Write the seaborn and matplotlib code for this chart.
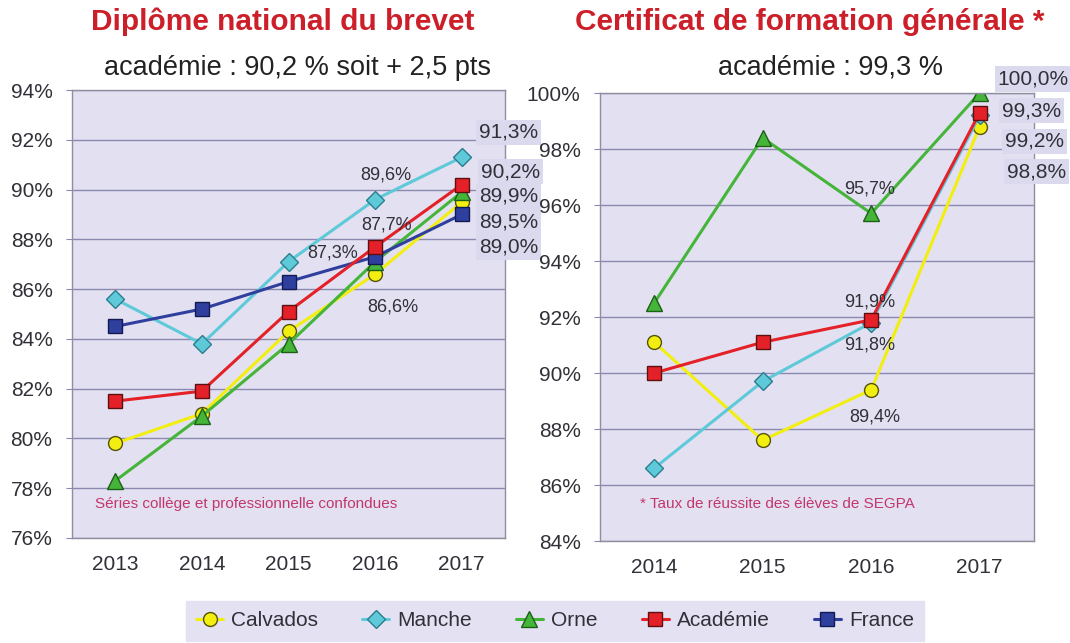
import numpy as np
import pandas as pd
import matplotlib
matplotlib.use("Agg")
import matplotlib.pyplot as plt
from matplotlib.ticker import FixedLocator, FuncFormatter
import seaborn as sns

sns.set_style("white")
plt.rcParams["font.family"] = ["Liberation Sans", "DejaVu Sans"]
NARROW = ["Liberation Sans Narrow", "Liberation Sans", "DejaVu Sans"]

# --- data ---
years_dnb = ["2013", "2014", "2015", "2016", "2017"]
dnb_calvados = [79.8, 81.0, 84.3, 86.6, 89.5]
dnb_manche = [85.6, 83.8, 87.1, 89.6, 91.3]
dnb_orne = [78.3, 80.9, 83.8, 87.1, 89.9]
dnb_france = [84.5, 85.2, 86.3, 87.3, 89.0]
dnb_academie = [81.5, 81.9, 85.1, 87.7, 90.2]

years_cfg = ["2014", "2015", "2016", "2017"]
cfg_calvados = [91.1, 87.6, 89.4, 98.8]
cfg_manche = [86.6, 89.7, 91.8, 99.2]
cfg_orne = [92.5, 98.4, 95.7, 100.0]
cfg_academie = [90.0, 91.1, 91.9, 99.3]

legend_order = ["Calvados", "Manche", "Orne", "Académie", "France"]

styles = {
    "Calvados": dict(color="#f2ee10", edge="#55520a", marker="o", ms=10),
    "Manche": dict(color="#5ec9d8", edge="#2b7c8c", marker="D", ms=9),
    "Orne": dict(color="#45b53a", edge="#1d5e18", marker="^", ms=11),
    "Académie": dict(color="#e42128", edge="#5e1010", marker="s", ms=10),
    "France": dict(color="#2f3f9e", edge="#121a55", marker="s", ms=10),
}

BG = "#e3e1f1"
GRID = "#8b89b0"
SPINE = "#8e8e9e"
TXT = "#303038"


def fmt(v):
    return f"{v:.1f}".replace(".", ",") + "%"


def draw(ax, years, series, ylim, labels):
    for name, vals in series.items():
        st = styles[name]
        df = pd.DataFrame({"annee": years, "taux": vals})
        sns.lineplot(data=df, x="annee", y="taux", ax=ax, color=st["color"],
                     marker=st["marker"], markersize=st["ms"],
                     markeredgecolor=st["edge"], markeredgewidth=1,
                     linewidth=2.2, label=name, legend=False)
    n = len(years)
    ax.set_facecolor(BG)
    ax.set_xlim(-0.5, n - 0.5)
    ax.set_ylim(*ylim)
    ax.set_yticks(np.arange(ylim[0], ylim[1] + 1, 2))
    ax.yaxis.set_major_formatter(FuncFormatter(lambda v, p: f"{v:.0f}%"))
    ax.grid(axis="y", color=GRID, lw=1)
    ax.grid(axis="x", visible=False)
    ax.set_axisbelow(True)
    ax.xaxis.set_minor_locator(FixedLocator(np.arange(-0.5, n, 1)))
    ax.tick_params(axis="x", which="major", length=0, pad=12, labelsize=15, labelcolor=TXT)
    ax.tick_params(axis="x", which="minor", length=5, color=SPINE, width=1)
    ax.tick_params(axis="y", length=4, color=GRID, labelsize=15, pad=10, labelcolor=TXT, left=True)
    for s in ax.spines.values():
        s.set_color(SPINE)
        s.set_linewidth(1)
    ax.set_xlabel("")
    ax.set_ylabel("")
    for name, i, dx, dy, ha, size, boxed in labels:
        v = series[name][i]
        kw = {}
        if boxed:
            kw["bbox"] = dict(boxstyle="square,pad=0.15", fc="#dbd9ee", ec="none")
        ax.annotate(fmt(v), xy=(i, v), xytext=(dx, dy), textcoords="offset pixels",
                    ha=ha, va="center", fontsize=size, color=TXT, zorder=5,
                    annotation_clip=False, **kw)


fig = plt.figure(figsize=(10.7, 6.43), dpi=100)
ax1 = fig.add_axes([0.0673, 0.1633, 0.4047, 0.6967])
ax2 = fig.add_axes([0.5607, 0.1586, 0.4056, 0.6967])

dnb = {"Calvados": dnb_calvados, "Orne": dnb_orne, "Manche": dnb_manche,
       "France": dnb_france, "Académie": dnb_academie}
dnb_labels = [
    ("Manche", 4, 17, 25, "left", 15, True),
    ("Académie", 4, 19, 13, "left", 15, True),
    ("Orne", 4, 17, -4, "left", 15, True),
    ("Calvados", 4, 17, -20, "left", 15, True),
    ("France", 4, 17, -33, "left", 15, True),
    ("Manche", 3, 11, 25, "center", 13, False),
    ("Académie", 3, 11, 22, "center", 13, False),
    ("France", 3, -43, 4, "center", 13, False),
    ("Calvados", 3, 18, -33, "center", 13, False),
]
draw(ax1, years_dnb, dnb, (76, 94), dnb_labels)

cfg = {"Calvados": cfg_calvados, "Orne": cfg_orne, "Manche": cfg_manche,
       "Académie": cfg_academie}
cfg_labels = [
    ("Orne", 3, 18, 14, "left", 15, True),
    ("Académie", 3, 22, 2, "left", 15, True),
    ("Manche", 3, 25, -26, "left", 15, True),
    ("Calvados", 3, 27, -45, "left", 15, True),
    ("Orne", 2, -2, 24, "center", 13, False),
    ("Académie", 2, -2, 18, "center", 13, False),
    ("Manche", 2, -2, -22, "center", 13, False),
    ("Calvados", 2, 4, -27, "center", 13, False),
]
draw(ax2, years_cfg, cfg, (84, 100), cfg_labels)

ax1.text(0.053, 0.076, "Séries collège et professionnelle confondues", transform=ax1.transAxes,
         fontsize=11, color="#c2366e", family=NARROW, va="center")
ax2.text(0.092, 0.083, "* Taux de réussite des élèves de SEGPA", transform=ax2.transAxes,
         fontsize=11, color="#c2366e", family=NARROW, va="center")

# titles
fig.text(283 / 1070, 1 - 22 / 643, "Diplôme national du brevet", ha="center", va="center",
         fontsize=21.5, fontweight="bold", color="#cc1f2a", family=NARROW)
fig.text(810 / 1070, 1 - 22 / 643, "Certificat de formation générale *", ha="center", va="center",
         fontsize=21.5, fontweight="bold", color="#cc1f2a", family=NARROW)
fig.text(297 / 1070, 1 - 68 / 643, "académie : 90,2 % soit + 2,5 pts", ha="center", va="center",
         fontsize=19.5, color="#222222", family=NARROW)
fig.text(830 / 1070, 1 - 68 / 643, "académie : 99,3 %", ha="center", va="center",
         fontsize=19.5, color="#222222", family=NARROW)

handles, labels = ax1.get_legend_handles_labels()
hmap = dict(zip(labels, handles))
leg = fig.legend([hmap[k] for k in legend_order], legend_order, loc="center",
                 bbox_to_anchor=(0.5187, 1 - 621 / 643), ncol=5, frameon=True,
                 fancybox=False, facecolor="#e4e2f2", edgecolor="#e4e2f2", framealpha=1,
                 fontsize=15, handlelength=1.3, columnspacing=2.1, handletextpad=0.4,
                 borderpad=0.5)
for t in leg.get_texts():
    t.set_color(TXT)

fig.savefig("out.png", dpi=100, facecolor="white")
